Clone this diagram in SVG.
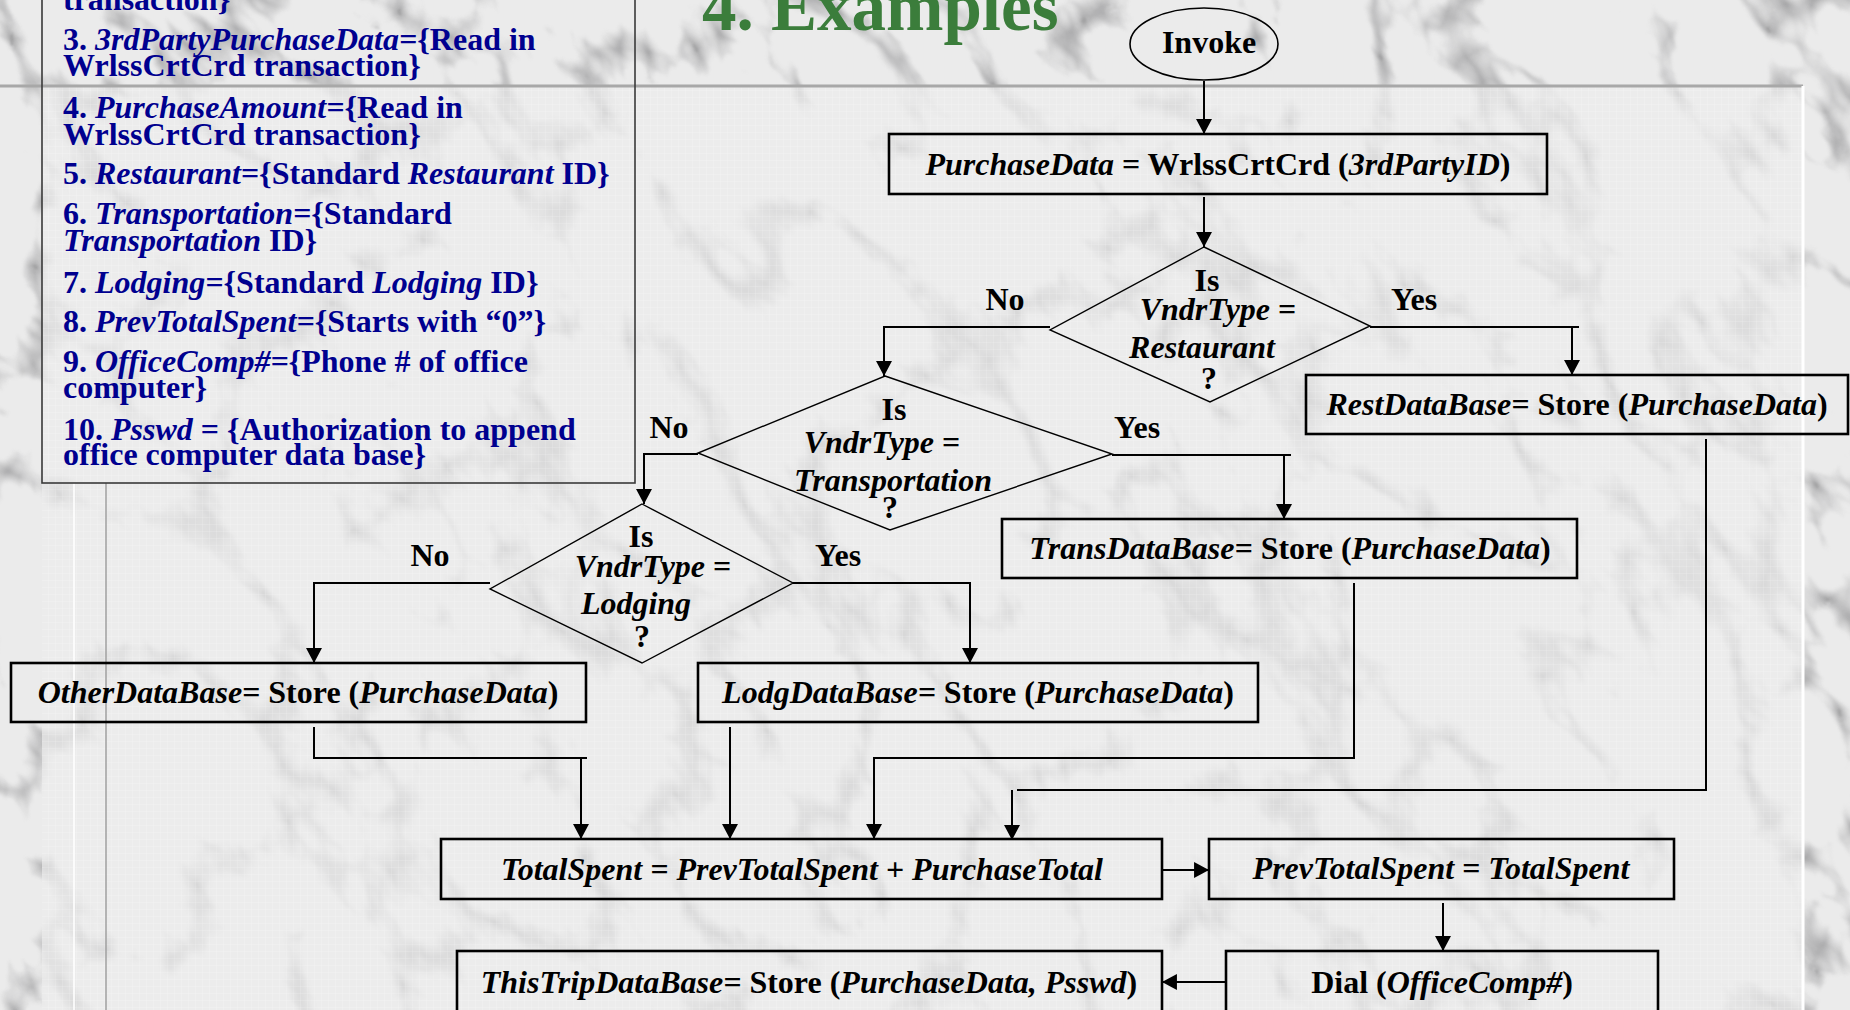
<svg xmlns="http://www.w3.org/2000/svg" width="1850" height="1010" viewBox="0 0 1850 1010">
<defs>
  <filter id="marble" x="0" y="0" width="1" height="1" color-interpolation-filters="sRGB">
    <feTurbulence type="turbulence" baseFrequency="0.009 0.005" numOctaves="4" seed="11"/>
    <feColorMatrix type="matrix" values="0 0 0 0 0.45  0 0 0 0 0.45  0 0 0 0 0.46  -2.6 0 0 0 0.6"/>
    <feGaussianBlur stdDeviation="1.2"/>
  </filter>
  <pattern id="grid" width="7" height="7" patternUnits="userSpaceOnUse">
    <path d="M7,0 V7 H0" fill="none" stroke="#ffffff" stroke-width="0.8" opacity="0.35"/>
  </pattern>
  <marker id="arr" markerUnits="userSpaceOnUse" markerWidth="16" markerHeight="16" viewBox="0 0 14 15" refX="14" refY="7.5" orient="auto">
    <path d="M0,0 L14,7.5 L0,15 Z" fill="#000"/>
  </marker>
  <style>
    .t { font-family: "Liberation Serif", "Times New Roman", serif; font-size: 32px; font-weight: bold; fill: #000; }
    .lg { font-family: "Liberation Serif", "Times New Roman", serif; font-size: 32px; font-weight: bold; fill: #00008f; }
    .i { font-style: italic; }
    .box { fill: none; stroke: #000; stroke-width: 2.6; }
    .dia { fill: none; stroke: #000; stroke-width: 1.4; }
    .con { fill: none; stroke: #000; stroke-width: 2; }
    .ar { marker-end: url(#arr); }
  </style>
</defs>

<!-- background -->
<g id="background">
  <rect x="0" y="0" width="1850" height="1010" fill="#ebebeb"/>
  <g transform="rotate(-35 925 505)">
    <rect x="-500" y="-700" width="2850" height="2410" filter="url(#marble)"/>
  </g>
  <rect x="42" y="86" width="1761" height="930" fill="#ebebeb" opacity="0.72"/>
  <rect x="42" y="86" width="1761" height="930" fill="url(#grid)"/>
  <line x1="0" y1="86" x2="1803" y2="86" stroke="#a8a8a8" stroke-width="3"/>
  <line x1="1803" y1="86" x2="1803" y2="1010" stroke="#ffffff" stroke-width="3"/>
  <line x1="74" y1="483" x2="74" y2="1010" stroke="#ffffff" stroke-width="2" opacity="0.8"/>
  <line x1="106" y1="483" x2="106" y2="1010" stroke="#a0a0a0" stroke-width="1.5"/>
</g>

<text class="t" x="702" y="30" style="font-size:69px; fill:#3b7d3b">4. Examples</text>

<!-- legend -->
<g id="legend">
  <rect x="42" y="-10" width="593" height="493" fill="none" stroke="#3a3a3a" stroke-width="1.6"/>
  <text class="lg" x="63" y="10">transaction}</text>
  <text class="lg" x="63" y="50">3. <tspan class="i">3rdPartyPurchaseData=</tspan>{Read in</text>
  <text class="lg" x="63" y="76">WrlssCrtCrd transaction}</text>
  <text class="lg" x="63" y="118">4. <tspan class="i">PurchaseAmount=</tspan>{Read in</text>
  <text class="lg" x="63" y="145">WrlssCrtCrd transaction}</text>
  <text class="lg" x="63" y="184">5. <tspan class="i">Restaurant=</tspan>{Standard <tspan class="i">Restaurant</tspan> ID}</text>
  <text class="lg" x="63" y="224">6. <tspan class="i">Transportation=</tspan>{Standard</text>
  <text class="lg" x="63" y="251"><tspan class="i">Transportation</tspan> ID}</text>
  <text class="lg" x="63" y="293">7. <tspan class="i">Lodging=</tspan>{Standard <tspan class="i">Lodging</tspan> ID}</text>
  <text class="lg" x="63" y="332">8. <tspan class="i">PrevTotalSpent=</tspan>{Starts with “0”}</text>
  <text class="lg" x="63" y="372">9. <tspan class="i">OfficeComp#=</tspan>{Phone # of office</text>
  <text class="lg" x="63" y="398">computer}</text>
  <text class="lg" x="63" y="440">10. <tspan class="i">Psswd</tspan> = {Authorization to append</text>
  <text class="lg" x="63" y="465">office computer data base}</text>
</g>

<!-- connectors -->
<g id="connectors">
  <path class="con ar" d="M1204,81 V134"/>
  <path class="con ar" d="M1204,197 V247"/>
  <path class="con ar" d="M1050,327 H884 V376"/>
  <path class="con" d="M1370,327 H1579"/>
  <path class="con ar" d="M1572,327 V375"/>
  <path class="con ar" d="M698,454 H644 V504"/>
  <path class="con" d="M1112,455 H1291"/>
  <path class="con ar" d="M1284,455 V519"/>
  <path class="con ar" d="M490,583 H314 V663"/>
  <path class="con ar" d="M793,583 H970 V663"/>
  <path class="con" d="M314,727 V758 H587"/>
  <path class="con ar" d="M581,758 V839"/>
  <path class="con ar" d="M730,727 V839"/>
  <path class="con ar" d="M1354,583 V758 H874 V839"/>
  <path class="con" d="M1706,439 V790 H1017"/>
  <path class="con ar" d="M1012,790 V840"/>
  <path class="con ar" d="M1162,870 H1209"/>
  <path class="con ar" d="M1443,903 V951"/>
  <path class="con ar" d="M1226,982 H1162"/>
</g>

<!-- nodes -->
<g id="invoke">
  <ellipse cx="1204" cy="44" rx="74" ry="36" fill="none" stroke="#000" stroke-width="1.6"/>
  <text class="t" x="1209" y="53" text-anchor="middle">Invoke</text>
</g>

<g id="purchase-data">
  <rect class="box" x="889" y="134" width="658" height="60"/>
  <text class="t" x="1218" y="175" text-anchor="middle"><tspan class="i">PurchaseData</tspan> = WrlssCrtCrd (<tspan class="i">3rdPartyID</tspan>)</text>
</g>

<g id="decision-restaurant">
  <polygon class="dia" points="1204,247 1370,326 1210,402 1050,330"/>
  <text class="t" x="1207" y="291" text-anchor="middle">Is</text>
  <text class="t" x="1218" y="320" text-anchor="middle"><tspan class="i">VndrType</tspan> =</text>
  <text class="t i" x="1202" y="358" text-anchor="middle">Restaurant</text>
  <text class="t" x="1209" y="389" text-anchor="middle">?</text>
</g>

<g id="decision-transportation">
  <polygon class="dia" points="885,376 1112,454 890,530 698,453"/>
  <text class="t" x="894" y="420" text-anchor="middle">Is</text>
  <text class="t" x="882" y="453" text-anchor="middle"><tspan class="i">VndrType</tspan> =</text>
  <text class="t i" x="893" y="491" text-anchor="middle">Transportation</text>
  <text class="t" x="890" y="518" text-anchor="middle">?</text>
</g>

<g id="decision-lodging">
  <polygon class="dia" points="642,504 793,583 642,663 490,589"/>
  <text class="t" x="641" y="547" text-anchor="middle">Is</text>
  <text class="t" x="653" y="577" text-anchor="middle"><tspan class="i">VndrType</tspan> =</text>
  <text class="t i" x="636" y="614" text-anchor="middle">Lodging</text>
  <text class="t" x="642" y="647" text-anchor="middle">?</text>
</g>

<g id="labels">
  <text class="t" x="1005" y="310" text-anchor="middle">No</text>
  <text class="t" x="1414" y="310" text-anchor="middle">Yes</text>
  <text class="t" x="669" y="438" text-anchor="middle">No</text>
  <text class="t" x="1137" y="438" text-anchor="middle">Yes</text>
  <text class="t" x="430" y="566" text-anchor="middle">No</text>
  <text class="t" x="838" y="566" text-anchor="middle">Yes</text>
</g>

<g id="rest-db">
  <rect class="box" x="1306" y="375" width="542" height="59"/>
  <text class="t" x="1577" y="415" text-anchor="middle"><tspan class="i">RestDataBase=</tspan> Store (<tspan class="i">PurchaseData</tspan>)</text>
</g>

<g id="trans-db">
  <rect class="box" x="1002" y="519" width="575" height="59"/>
  <text class="t" x="1290" y="559" text-anchor="middle"><tspan class="i">TransDataBase=</tspan> Store (<tspan class="i">PurchaseData</tspan>)</text>
</g>

<g id="other-db">
  <rect class="box" x="11" y="663" width="575" height="59"/>
  <text class="t" x="298" y="703" text-anchor="middle"><tspan class="i">OtherDataBase=</tspan> Store (<tspan class="i">PurchaseData</tspan>)</text>
</g>

<g id="lodg-db">
  <rect class="box" x="698" y="663" width="560" height="59"/>
  <text class="t" x="978" y="703" text-anchor="middle"><tspan class="i">LodgDataBase=</tspan> Store (<tspan class="i">PurchaseData</tspan>)</text>
</g>

<g id="total-spent">
  <rect class="box" x="441" y="839" width="721" height="60"/>
  <text class="t i" x="802" y="880" text-anchor="middle">TotalSpent = PrevTotalSpent + PurchaseTotal</text>
</g>

<g id="prev-total-spent">
  <rect class="box" x="1209" y="839" width="465" height="60"/>
  <text class="t i" x="1441" y="879" text-anchor="middle">PrevTotalSpent = TotalSpent</text>
</g>

<g id="dial">
  <rect class="box" x="1226" y="951" width="432" height="66"/>
  <text class="t" x="1442" y="993" text-anchor="middle">Dial (<tspan class="i">OfficeComp#</tspan>)</text>
</g>

<g id="this-trip-db">
  <rect class="box" x="457" y="951" width="705" height="66"/>
  <text class="t" x="809" y="993" text-anchor="middle"><tspan class="i">ThisTripDataBase=</tspan> Store (<tspan class="i">PurchaseData, Psswd</tspan>)</text>
</g>
</svg>
